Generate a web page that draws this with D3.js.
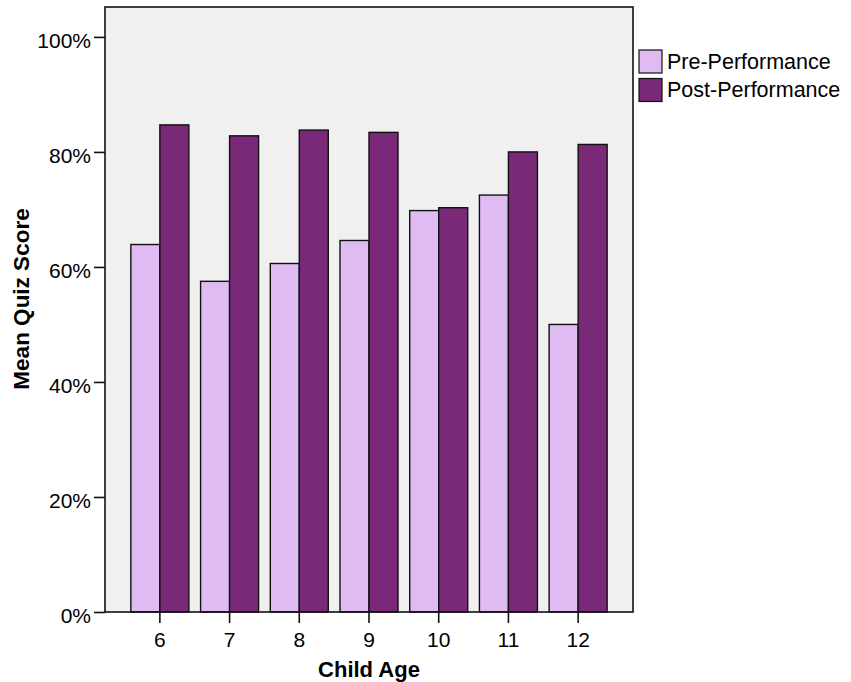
<!DOCTYPE html>
<html>
<head>
<meta charset="utf-8">
<script src="https://cdn.jsdelivr.net/npm/d3@7"></script>
<style>
  body { margin: 0; background: #fff; }
  text { font-family: Arial, "Liberation Sans", sans-serif; fill: #000; }
</style>
</head>
<body>
<script>
// Data
var ages = ["6", "7", "8", "9", "10", "11", "12"];
var series = ["Pre-Performance", "Post-Performance"];
var preScores = [0.639, 0.575, 0.606, 0.646, 0.698, 0.725, 0.500];
var postScores = [0.847, 0.828, 0.838, 0.834, 0.703, 0.800, 0.813];
var yTicks = [0, 0.2, 0.4, 0.6, 0.8, 1.0];

var colors = ["#dfbbf1", "#7a2878"];

// Dimensions
var margin = { top: 7, right: 218, bottom: 70, left: 105 };
var width = 851 - margin.left - margin.right;
var height = 682 - margin.top - margin.bottom;

var svg = d3.select("body")
  .append("svg")
  .attr("width", 851)
  .attr("height", 682);

var g = svg.append("g")
  .attr("transform", "translate(" + margin.left + "," + margin.top + ")");

// Scales
var x0 = d3.scaleBand()
  .domain(ages)
  .range([0, width])
  .paddingInner(0.168)
  .paddingOuter(0.371);

var x1 = d3.scaleBand()
  .domain(series)
  .range([0, x0.bandwidth()]);

var y = d3.scaleLinear()
  .domain([0, 1.052])
  .range([height, 0]);

var color = d3.scaleOrdinal().domain(series).range(colors);

// Plot background
g.append("rect")
  .attr("width", width)
  .attr("height", height)
  .attr("fill", "#f0f0f0");

// Bars
var rows = ages.map(function (a, i) {
  return { age: a, values: [
    { key: series[0], value: preScores[i] },
    { key: series[1], value: postScores[i] }
  ] };
});

var groups = g.selectAll(".grp")
  .data(rows)
  .enter().append("g")
  .attr("class", "grp")
  .attr("transform", function (d) { return "translate(" + x0(d.age) + ",0)"; });

groups.selectAll("rect")
  .data(function (d) { return d.values; })
  .enter().append("rect")
  .attr("x", function (d) { return x1(d.key); })
  .attr("y", function (d) { return y(d.value); })
  .attr("width", x1.bandwidth())
  .attr("height", function (d) { return height - y(d.value); })
  .attr("fill", function (d) { return color(d.key); })
  .attr("stroke", "#111")
  .attr("stroke-width", 1.4);

// Frame
g.append("rect")
  .attr("width", width)
  .attr("height", height)
  .attr("fill", "none")
  .attr("stroke", "#111")
  .attr("stroke-width", 1.6);

// X axis
var xAxis = g.append("g")
  .attr("transform", "translate(0," + height + ")")
  .call(d3.axisBottom(x0).tickSize(11).tickPadding(9));
xAxis.select(".domain").remove();
xAxis.selectAll("line").attr("stroke", "#111").attr("stroke-width", 1.6);
xAxis.selectAll("text")
  .style("font-size", "21px")
  .style("font-family", "Arial, 'Liberation Sans', sans-serif")
  .attr("fill", "#000");

// Y axis
var yAxis = g.append("g")
  .call(d3.axisLeft(y).tickValues(yTicks).tickFormat(d3.format(".0%")).tickSize(11).tickPadding(3));
yAxis.select(".domain").remove();
yAxis.selectAll("line").attr("stroke", "#111").attr("stroke-width", 1.6);
yAxis.selectAll("text")
  .attr("dy", "0.5em")
  .style("font-size", "21px")
  .style("font-family", "Arial, 'Liberation Sans', sans-serif")
  .attr("fill", "#000");

// Axis titles
svg.append("text")
  .attr("x", margin.left + width / 2)
  .attr("y", 677)
  .attr("text-anchor", "middle")
  .style("font-size", "22px")
  .style("font-weight", "bold")
  .text("Child Age");

svg.append("text")
  .attr("transform", "translate(29,299) rotate(-90)")
  .attr("text-anchor", "middle")
  .style("font-size", "22.5px")
  .style("font-weight", "bold")
  .text("Mean Quiz Score");

// Legend
var legend = svg.append("g")
  .attr("transform", "translate(" + (margin.left + width + 6) + ",50)");

var item = legend.selectAll(".item")
  .data(series)
  .enter().append("g")
  .attr("class", "item")
  .attr("transform", function (d, i) { return "translate(0," + i * 28.5 + ")"; });

item.append("rect")
  .attr("width", 23)
  .attr("height", 23)
  .attr("fill", function (d) { return color(d); })
  .attr("stroke", "#111")
  .attr("stroke-width", 1.2);

item.append("text")
  .attr("x", 28)
  .attr("y", 18.5)
  .style("font-size", "21.5px")
  .text(function (d) { return d; });
</script>
</body>
</html>
